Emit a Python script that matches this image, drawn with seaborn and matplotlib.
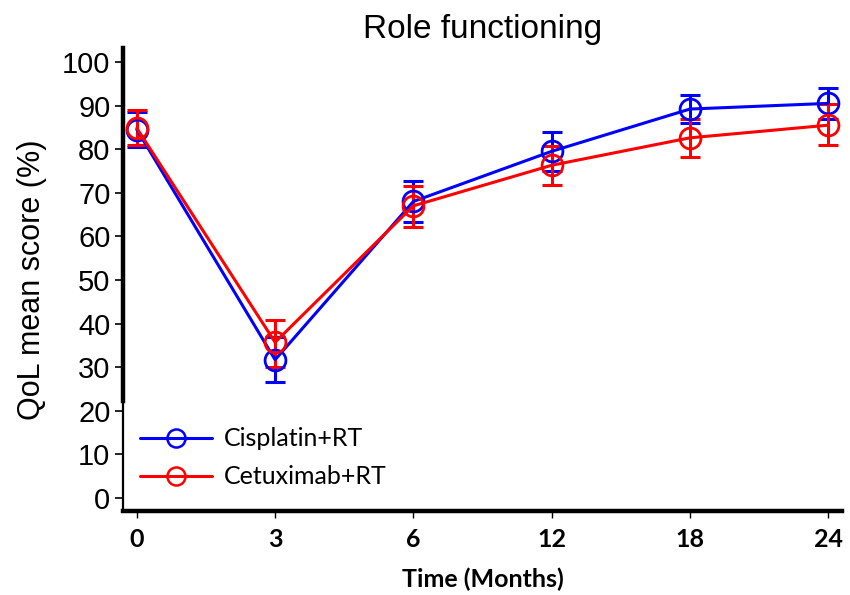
import matplotlib
matplotlib.use("Agg")
import matplotlib.pyplot as plt
from matplotlib.lines import Line2D
import seaborn as sns
import pandas as pd

# Visit times (months) and QoL role-functioning scores
months = ["0", "3", "6", "12", "18", "24"]
cisplatin_mean = [84.5, 31.7, 68.0, 79.5, 89.2, 90.5]
cisplatin_lo = [80.5, 26.5, 63.2, 75.0, 86.0, 87.0]
cisplatin_hi = [88.5, 36.9, 72.6, 84.0, 92.4, 94.0]
cetuximab_mean = [84.8, 35.7, 67.0, 76.3, 82.6, 85.5]
cetuximab_lo = [81.0, 30.1, 62.2, 71.8, 78.2, 80.9]
cetuximab_hi = [89.0, 40.8, 71.6, 80.8, 87.0, 90.3]

groups = ["Cisplatin+RT", "Cetuximab+RT"]
colors = {"Cisplatin+RT": "#0000ff", "Cetuximab+RT": "#ff0000"}

pos = list(range(len(months)))
df = pd.DataFrame({
    "pos": pos * 2,
    "score": cisplatin_mean + cetuximab_mean,
    "lo": cisplatin_lo + cetuximab_lo,
    "hi": cisplatin_hi + cetuximab_hi,
    "group": [groups[0]] * len(pos) + [groups[1]] * len(pos),
})

sns.set_style("white")
plt.rcParams["font.family"] = ["Liberation Sans", "DejaVu Sans"]
plt.rcParams["text.color"] = "black"
plt.rcParams["axes.labelcolor"] = "black"
plt.rcParams["xtick.color"] = "black"
plt.rcParams["ytick.color"] = "black"

fig = plt.figure(figsize=(8.5, 5.95), dpi=100)
ax = fig.add_axes([0.1447, 0.1412, 0.8459, 0.7781])

for g in groups:
    sub = df[df["group"] == g]
    ax.errorbar(sub["pos"], sub["score"],
                yerr=[sub["score"] - sub["lo"], sub["hi"] - sub["score"]],
                fmt="none", ecolor=colors[g], elinewidth=2.2,
                capsize=7, capthick=2.2, zorder=3)

sns.lineplot(data=df, x="pos", y="score", hue="group", hue_order=groups,
             palette=colors, marker="o", markersize=15,
             markerfacecolor="none", markeredgewidth=2.0, linewidth=2.2,
             legend=False, ax=ax, zorder=4)
for line, g in zip(ax.get_lines()[-2:], groups):
    line.set_markeredgecolor(colors[g])

ax.set_xlim(-0.1, 5.1)
ax.set_ylim(-3, 103.2)
ax.set_xticks(pos)
ax.set_xticklabels(months, fontfamily="Lato", fontweight="bold", fontsize=18)
ax.set_yticks(range(0, 101, 10))
ax.tick_params(axis="y", labelsize=21, length=6, width=1.2, direction="out",
               left=True, pad=3)
ax.tick_params(axis="x", length=5, width=1.0, direction="out", bottom=True,
               pad=7)

for s in ["top", "right"]:
    ax.spines[s].set_visible(False)
ax.spines["left"].set_linewidth(3.2)
ax.spines["bottom"].set_linewidth(3.2)
ax.spines["left"].set_color("black")
ax.spines["bottom"].set_color("black")
ax.spines["left"].set_bounds(22.2, 103.2)
ax.plot([-0.1, -0.1], [-3, 22.2], color="black", lw=1.6, clip_on=False,
        zorder=5)

ax.set_xlabel("Time (Months)", fontfamily="Lato", fontweight="bold",
              fontsize=18, labelpad=12)
ax.set_ylabel("QoL mean score (%)", fontsize=22, labelpad=11)
ax.set_title("Role functioning", fontsize=24, pad=7)

handles = [Line2D([], [], color=colors[g], lw=2.2, marker="o", markersize=13,
                  markerfacecolor="none", markeredgewidth=1.8,
                  markeredgecolor=colors[g]) for g in groups]
ax.legend(handles, groups, loc="lower left", bbox_to_anchor=(-0.008, 0.0),
          frameon=False, prop={"family": "Lato", "size": 18},
          handlelength=2.9, handletextpad=0.45, labelspacing=0.6)

fig.savefig("out.png", dpi=100)
